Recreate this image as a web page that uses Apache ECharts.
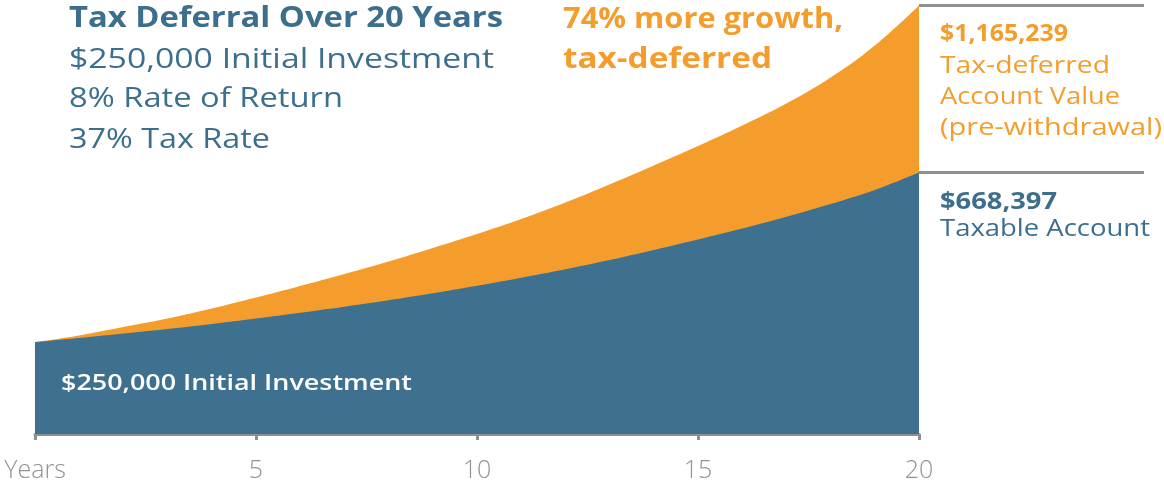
<!DOCTYPE html>
<html><head><meta charset="utf-8">
<script src="https://cdn.jsdelivr.net/npm/echarts@6/dist/echarts.min.js"></script>
<style>html,body{margin:0;padding:0;background:#fff}#c{width:1164px;height:487px}</style>
</head><body><div id="c"></div>
<script>
const years = [0,1,2,3,4,5,6,7,8,9,10,11,12,13,14,15,16,17,18,19,20];
const taxDeferred = [250000,268000,290900,314000,341200,371100,402400,435000,469000,505700,543800,584600,629400,678400,730000,783000,838800,898600,969300,1056300,1165239];
const taxable = [250000,261000,273200,285500,299100,314000,329700,346000,363700,382700,403100,424800,447900,473100,500300,528800,558700,590700,625300,663400,711000];
const tickValues = [0,5,10,15,20];
const tickLabels = ['Years','5','10','15','20'];
const titleLines = ['Tax Deferral Over 20 Years','$250,000 Initial Investment','8% Rate of Return','37% Tax Rate'];
const growthLines = ['74% more growth,','tax-deferred'];
const deferredLabel = ['$1,165,239','Tax-deferred','Account Value','(pre-withdrawal)'];
const taxableLabel = ['$668,397','Taxable Account'];
const initialLabel = '$250,000 Initial Investment';

const ORANGE = '#F59D2C', BLUE = '#3E7190', TXTBLUE = '#3C6E8D', GRAY = '#8c8f93', FONT = '"Open Sans", Lato, sans-serif';
const chart = echarts.init(document.getElementById('c'));
const pair = arr => years.map((y,i)=>[y,arr[i]]);
chart.setOption({
  animation:false,
  grid:{left:35,right:245,top:0,bottom:53},
  xAxis:{type:'value',min:0,max:20,interval:5,
    axisLine:{lineStyle:{color:GRAY,width:3}},
    axisTick:{show:true,length:6,lineStyle:{color:GRAY,width:3}},
    splitLine:{show:false},
    axisLabel:{margin:24,fontSize:25,color:'#909396',fontFamily:FONT,fontWeight:300,
      formatter:v=>tickLabels[tickValues.indexOf(v)]}},
  yAxis:{type:'value',min:0,max:1180000,show:false,splitLine:{show:false}},
  series:[
    {type:'line',data:pair(taxDeferred),smooth:0.4,showSymbol:false,lineStyle:{width:0},
     areaStyle:{color:ORANGE,opacity:1},z:1},
    {type:'line',data:pair(taxable),smooth:0.4,showSymbol:false,lineStyle:{width:0},
     areaStyle:{color:BLUE,opacity:1},z:2}
  ]
});
const yTop = chart.convertToPixel({gridIndex:0},[20,taxDeferred[20]])[1];
const yBlue = chart.convertToPixel({gridIndex:0},[20,taxable[20]])[1];
const xEnd = chart.convertToPixel({gridIndex:0},[20,0])[0];
const ctx = document.createElement('canvas').getContext('2d');
const t = (text,x,y,size,color,weight,width)=>{
  ctx.font = weight+' '+size+'px '+FONT;
  const w = ctx.measureText(text).width;
  return {type:'text',x:x,y:y,scaleX:width/w,
    style:{text:text,fontSize:size,fill:color,fontFamily:FONT,fontWeight:weight,verticalAlign:'middle',align:'left'},z:10};
};
const g = [];
const titleY=[19,60,99,140], titleW=[434,425,274,201];
titleLines.forEach((s,i)=>g.push(t(s,69,titleY[i],28,TXTBLUE,i===0?'bold':'normal',titleW[i])));
const growY=[20,60], growW=[280,209];
growthLines.forEach((s,i)=>g.push(t(s,563,growY[i],28,ORANGE,'bold',growW[i])));
g.push({type:'line',shape:{x1:xEnd,y1:yTop,x2:1144,y2:yTop},style:{stroke:GRAY,lineWidth:3},z:10});
g.push({type:'line',shape:{x1:xEnd,y1:yBlue,x2:1144,y2:yBlue},style:{stroke:GRAY,lineWidth:3},z:10});
const dOff=[29,60.5,92,123], dW=[128,170,180,222];
deferredLabel.forEach((s,i)=>g.push(t(s,940,yTop+dOff[i],24,ORANGE,i===0?'bold':'normal',dW[i])));
const bOff=[29.5,57], bW=[117,210];
taxableLabel.forEach((s,i)=>g.push(t(s,940,yBlue+bOff[i],24,TXTBLUE,i===0?'bold':'normal',bW[i])));
g.push(t(initialLabel,61,384,22,'#ffffff','600',351));
chart.setOption({graphic:g});
</script></body></html>
